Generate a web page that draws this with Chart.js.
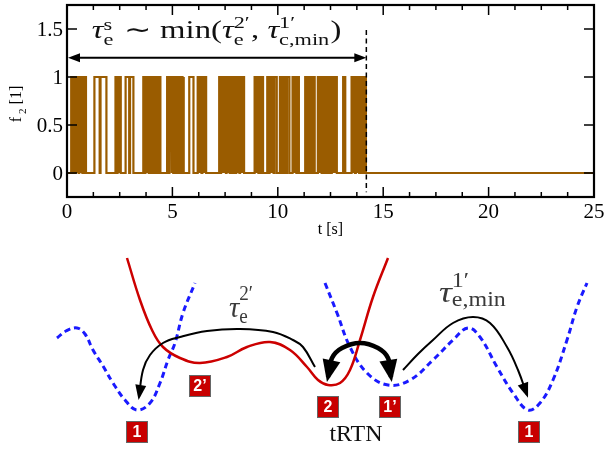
<!DOCTYPE html>
<html><head><meta charset="utf-8">
<script src="https://cdn.jsdelivr.net/npm/chart.js@4.4.1/dist/chart.umd.min.js"></script>
<style>
html,body{margin:0;padding:0;background:#fff;}
#wrap{position:relative;width:604px;height:449px;overflow:hidden;}
.box{position:absolute;left:0;width:604px;}
</style></head><body>
<div id="wrap">
<div class="box" style="top:0;height:245px"><canvas id="top" width="604" height="245"></canvas></div>
<div class="box" style="top:245px;height:204px"><canvas id="bot" width="604" height="204"></canvas></div>
</div>
<script>
// ---------- top panel data ----------
const xTicks = [0, 5, 10, 15, 20, 25];
const yTicks = [0, 0.5, 1, 1.5];
const tEnd = 25;
const tEscape = 14.2;
// intervals where f2 = 1 (telegraph noise)
const highStart = [
  0.20,0.29,0.40,0.47,0.58,0.65,0.76,0.83,
  1.30,1.59,
  2.30,2.40,2.50,
  2.78,2.99,
  3.62,3.72,3.83,3.92,4.06,4.16,4.28,4.38,
  4.75,4.86,4.98,5.08,5.20,5.32,5.42,5.51,
  5.80,
  6.20,6.30,6.42,6.53,
  7.22,7.31,7.39,7.49,7.57,7.67,7.75,7.85,7.93,8.03,8.11,8.21,8.29,8.37,
  8.90,9.01,9.12,9.24,
  9.50,9.61,9.72,9.84,
  10.10,10.21,10.32,10.44,
  10.70,10.81,10.92,
  11.30,11.41,11.54,11.66,
  11.90,12.00,12.12,12.22,12.34,12.44,12.56,12.66,12.76,
  13.10,
  13.50,13.60,13.70,13.80,13.90,14.00,14.10];
const highEnd = [
  0.26,0.37,0.44,0.55,0.62,0.73,0.80,0.90,
  1.55,1.87,
  2.36,2.47,2.55,
  2.95,3.15,
  3.68,3.80,3.88,4.02,4.12,4.24,4.35,4.43,
  4.82,4.95,5.04,5.16,5.28,5.38,5.48,5.55,
  6.00,
  6.27,6.38,6.50,6.60,
  7.28,7.36,7.46,7.54,7.64,7.72,7.82,7.90,8.00,8.08,8.18,8.26,8.35,8.40,
  8.97,9.08,9.20,9.30,
  9.57,9.68,9.80,9.95,
  10.17,10.28,10.40,10.55,
  10.77,10.88,11.00,
  11.37,11.50,11.62,11.75,
  11.96,12.08,12.18,12.30,12.40,12.52,12.62,12.73,12.80,
  13.20,
  13.57,13.66,13.77,13.86,13.97,14.06,14.18];

// ---------- bottom schematic data (x: configuration coordinate, E: energy) ----------
const redX = [127,140,152,163,180,200,227,247,270,290,307,318,328,340,350,360,373,388];
const redE = [191,149,119,102,91,86,92,102,107,99,82,69,64,66,79,109,152,191];
const blueLX = [57,66,77,85,93,103,113,125,137,150,160,168,175,183,195];
const blueLE = [111,118,121,115,99,83,66,49,39,46,66,89,106,136,166];
const blueRX = [325,337,350,367,388,410,433,453,468,480,497,513,528,540,553,567,577,587];
const blueRE = [166,136,102,76,64,69,89,109,121,112,82,56,39,46,69,109,142,166];
const arr1X = [315,303,293,273,240,207,180,163,150,143,139];
const arr1E = [82,102,109,117,120,118,112,106,94,79,52];
const arr2X = [403,418,433,453,473,490,507,518,527];
const arr2E = [79,95,109,126,132,126,102,79,54];
const arr3X = [328,332,342,360,378,388,391];
const arr3E = [72,91,101,106,101,91,72];
const stateNames = ['1', '2\u2019', '2', '1\u2019', '1'];
const stateX = [137, 200, 328, 390, 529];
const stateE = [17, 63, 42, 42, 17];

const zip = (xs, ys) => xs.map((v, i) => ({x: v, y: ys[i]}));
const SERIF = '"Liberation Serif", serif';

function tokensWidth(ctx, toks) {
  let w = 0;
  for (const t of toks) {
    if (t.t !== undefined) { ctx.font = t.f; w += ctx.measureText(t.t).width; }
    else {
      ctx.font = t.f; let m = 0;
      if (t.sup) m = Math.max(m, ctx.measureText(t.sup).width);
      if (t.sub) m = Math.max(m, ctx.measureText(t.sub).width);
      w += m + (t.gap || 1);
    }
  }
  return w;
}
function drawTokens(ctx, toks, x, y, targetW, color) {
  const w = tokensWidth(ctx, toks);
  const sx = targetW ? targetW / w : 1;
  ctx.save();
  ctx.translate(x, y); ctx.scale(sx, 1);
  ctx.fillStyle = color; ctx.textBaseline = 'alphabetic'; ctx.textAlign = 'left';
  let cx = 0;
  for (const t of toks) {
    if (t.t !== undefined) { ctx.font = t.f; ctx.fillText(t.t, cx, 0); cx += ctx.measureText(t.t).width; }
    else {
      ctx.font = t.f; let m = 0;
      if (t.sup) { ctx.fillText(t.sup, cx, t.supDy); m = Math.max(m, ctx.measureText(t.sup).width); }
      if (t.sub) { ctx.fillText(t.sub, cx, t.subDy); m = Math.max(m, ctx.measureText(t.sub).width); }
      cx += m + (t.gap || 1);
    }
  }
  ctx.restore();
}

function line(ctx, x1, y1, x2, y2) { ctx.beginPath(); ctx.moveTo(x1, y1); ctx.lineTo(x2, y2); ctx.stroke(); }
function head(ctx, tx, ty, dx, dy, len, hw) {
  const n = Math.hypot(dx, dy) || 1; dx /= n; dy /= n;
  const bx = tx - dx * len, by = ty - dy * len;
  ctx.beginPath();
  ctx.moveTo(tx, ty);
  ctx.lineTo(bx - dy * hw, by + dx * hw);
  ctx.lineTo(bx + dy * hw, by - dx * hw);
  ctx.closePath(); ctx.fill();
}

// ---------- top chart ----------
const sig = [{x: 0, y: 0}];
for (let i = 0; i < highStart.length; i++) {
  sig.push({x: highStart[i], y: 0}, {x: highStart[i], y: 1}, {x: highEnd[i], y: 1}, {x: highEnd[i], y: 0});
}
sig.push({x: tEnd, y: 0});

const topDecor = {
  id: 'topDecor',
  afterDraw(chart) {
    const {ctx, chartArea: a, scales: {x, y}} = chart;
    ctx.save();
    ctx.strokeStyle = '#000'; ctx.fillStyle = '#000';
    ctx.lineWidth = 1.5;
    for (let k = 0; k <= 20; k++) {
      const v = k * 1.25, px = x.getPixelForValue(v), L = (k % 4 === 0) ? 10 : 5;
      line(ctx, px, a.bottom, px, a.bottom - L);
      line(ctx, px, a.top, px, a.top + L);
    }
    for (const v of yTicks) {
      const py = y.getPixelForValue(v);
      line(ctx, a.left, py, a.left + 10, py);
      line(ctx, a.right, py, a.right - 10, py);
    }
    ctx.lineWidth = 2.2;
    ctx.strokeRect(a.left, a.top, a.right - a.left, a.bottom - a.top);
    // tick labels from the library's tick lists
    ctx.font = '21px ' + SERIF; ctx.fillStyle = '#000'; ctx.textBaseline = 'alphabetic';
    ctx.textAlign = 'center';
    for (const t of x.ticks) ctx.fillText(String(t.value), x.getPixelForValue(t.value), a.bottom + 21);
    ctx.textAlign = 'right';
    for (const t of y.ticks) ctx.fillText(String(t.value), a.left - 4, y.getPixelForValue(t.value) + 7);
    // dashed escape line
    ctx.lineWidth = 1.5; ctx.setLineDash([5, 3.5]);
    const ex = x.getPixelForValue(tEscape);
    line(ctx, ex, y.getPixelForValue(1.49), ex, y.getPixelForValue(-0.2));
    ctx.setLineDash([]);
    const ay = y.getPixelForValue(1.2), ax0 = x.getPixelForValue(0);
    ctx.lineWidth = 2;
    line(ctx, ax0 + 6, ay, ex - 6, ay);
    head(ctx, ax0 + 1, ay, -1, 0, 12, 4.5);
    head(ctx, ex, ay, 1, 0, 12, 4.5);
    const big = '25px ' + SERIF, it = 'italic 25px ' + SERIF, sm = '17px ' + SERIF;
    const toks = [
      {t: '\u03C4', f: it}, {sup: 's', sub: 'e', f: sm, supDy: -8, subDy: 7, gap: 2},
      {t: ' \u223C ', f: big}, {t: 'min(', f: big},
      {t: '\u03C4', f: it}, {sup: '2\u2032', sub: 'e', f: sm, supDy: -10, subDy: 7, gap: 1},
      {t: ', ', f: big},
      {t: '\u03C4', f: it}, {sup: '1\u2032', sub: 'c,min', f: sm, supDy: -10, subDy: 7, gap: 1},
      {t: ')', f: big}
    ];
    const lx0 = x.getPixelForValue(1.18), lx1 = x.getPixelForValue(13.02);
    drawTokens(ctx, toks, lx0, y.getPixelForValue(1.405), lx1 - lx0, '#111');
    ctx.fillStyle = '#000';
    ctx.font = '16px ' + SERIF; ctx.textAlign = 'center'; ctx.textBaseline = 'alphabetic';
    ctx.fillText('t [s]', (a.left + a.right) / 2, 234);
    ctx.save();
    ctx.translate(21, 104); ctx.rotate(-Math.PI / 2);
    ctx.textAlign = 'left';
    ctx.font = '16px ' + SERIF;
    const wf = ctx.measureText('f').width;
    ctx.font = '11px ' + SERIF;
    const w2 = ctx.measureText('2').width;
    ctx.font = '16px ' + SERIF;
    const wb = ctx.measureText(' [1]').width;
    const tot = wf + 3 + w2 + wb;
    let cx = -tot / 2;
    ctx.fillText('f', cx, 0); cx += wf + 3;
    ctx.font = '11px ' + SERIF; ctx.fillText('2', cx, 5); cx += w2;
    ctx.font = '16px ' + SERIF; ctx.fillText(' [1]', cx, 0);
    ctx.restore();
    ctx.restore();
  }
};

new Chart(document.getElementById('top'), {
  type: 'line',
  data: {datasets: [{data: sig, borderColor: '#9a5c00', borderWidth: 2.2, pointRadius: 0, tension: 0, fill: false}]},
  options: {
    responsive: false, animation: false,
    layout: {padding: {left: 0, right: 10, top: 5, bottom: 0}},
    plugins: {legend: {display: false}, tooltip: {enabled: false}},
    scales: {
      x: {type: 'linear', min: 0, max: 25,
        grid: {display: false, drawTicks: false}, border: {display: false},
        afterBuildTicks: s => { s.ticks = xTicks.map(v => ({value: v})); },
        afterFit: s => { s.height = 48; },
        ticks: {display: false}},
      y: {type: 'linear', min: -0.25, max: 1.75,
        grid: {display: false, drawTicks: false}, border: {display: false},
        afterBuildTicks: s => { s.ticks = yTicks.map(v => ({value: v})); },
        afterFit: s => { s.width = 67; },
        ticks: {display: false}}
    }
  },
  plugins: [topDecor]
});

// ---------- bottom chart ----------
const botDecor = {
  id: 'botDecor',
  afterDatasetsDraw(chart) {
    const {ctx, scales: {x, y}} = chart;
    ctx.save();
    ctx.fillStyle = '#000';
    chart.data.datasets.forEach((ds, i) => {
      if (!ds.heads) return;
      const pts = chart.getDatasetMeta(i).data, n = pts.length;
      const e = pts[n - 1], p = pts[n - 2];
      let dx = e.x - p.x, dy = e.y - p.y;
      let nn = Math.hypot(dx, dy); dx /= nn; dy /= nn;
      head(ctx, e.x + dx * ds.headOff, e.y + dy * ds.headOff, dx, dy, ds.headLen, ds.headW);
      if (ds.heads === 'both') {
        const s = pts[0], q = pts[1];
        let sx = s.x - q.x, sy = s.y - q.y; nn = Math.hypot(sx, sy); sx /= nn; sy /= nn;
        head(ctx, s.x + sx * ds.headOff, s.y + sy * ds.headOff, sx, sy, ds.headLen, ds.headW);
      }
    });
    for (let i = 0; i < stateNames.length; i++) {
      const cx = x.getPixelForValue(stateX[i]), cy = y.getPixelForValue(stateE[i]);
      ctx.fillStyle = '#c80000'; ctx.strokeStyle = '#666'; ctx.lineWidth = 1;
      ctx.fillRect(cx - 10.5, cy - 10.5, 21, 21); ctx.strokeRect(cx - 10.5, cy - 10.5, 21, 21);
      ctx.fillStyle = '#fff'; ctx.font = 'bold 16px "Liberation Sans",Arial,sans-serif';
      ctx.textAlign = 'center'; ctx.textBaseline = 'middle';
      ctx.fillText(stateNames[i], cx, cy + 1);
    }
    ctx.fillStyle = '#111'; ctx.font = '24px ' + SERIF; ctx.textAlign = 'center'; ctx.textBaseline = 'alphabetic';
    ctx.fillText('tRTN', x.getPixelForValue(356), y.getPixelForValue(8));
    const it = 'italic 30px ' + SERIF, sm = '20px ' + SERIF;
    drawTokens(ctx, [{t: '\u03C4', f: it}, {sup: '2\u2032', sub: 'e', f: sm, supDy: -17, subDy: 6, gap: 0}],
      x.getPixelForValue(229), y.getPixelForValue(132), 25, '#3a3a3a');
    drawTokens(ctx, [{t: '\u03C4', f: it}, {sup: '1\u2032', sub: 'e,min', f: sm, supDy: -15, subDy: 4, gap: 0}],
      x.getPixelForValue(439), y.getPixelForValue(147), 68, '#3a3a3a');
    ctx.restore();
  }
};

new Chart(document.getElementById('bot'), {
  type: 'line',
  data: {datasets: [
    {data: zip(arr1X, arr1E), borderColor: '#000', borderWidth: 2, tension: 0.4, heads: 'end', headLen: 15, headW: 5.5, headOff: 3},
    {data: zip(arr2X, arr2E), borderColor: '#000', borderWidth: 2, tension: 0.4, heads: 'end', headLen: 15, headW: 5.5, headOff: 3},
    {data: zip(arr3X, arr3E), borderColor: '#000', borderWidth: 4.5, tension: 0.4, heads: 'both', headLen: 22, headW: 9, headOff: 5},
    {data: zip(redX, redE), borderColor: '#cc0000', borderWidth: 2.5, tension: 0.4},
    {data: zip(blueLX, blueLE), borderColor: '#1a1aff', borderWidth: 3, borderDash: [6, 4], tension: 0.4},
    {data: zip(blueRX, blueRE), borderColor: '#1a1aff', borderWidth: 3, borderDash: [6, 4], tension: 0.4}
  ]},
  options: {
    responsive: false, animation: false,
    layout: {padding: 0},
    elements: {point: {radius: 0}},
    plugins: {legend: {display: false}, tooltip: {enabled: false}},
    scales: {
      x: {type: 'linear', display: false, min: 0, max: 604},
      y: {type: 'linear', display: false, min: 0, max: 204}
    }
  },
  plugins: [botDecor]
});
</script>
</body></html>
